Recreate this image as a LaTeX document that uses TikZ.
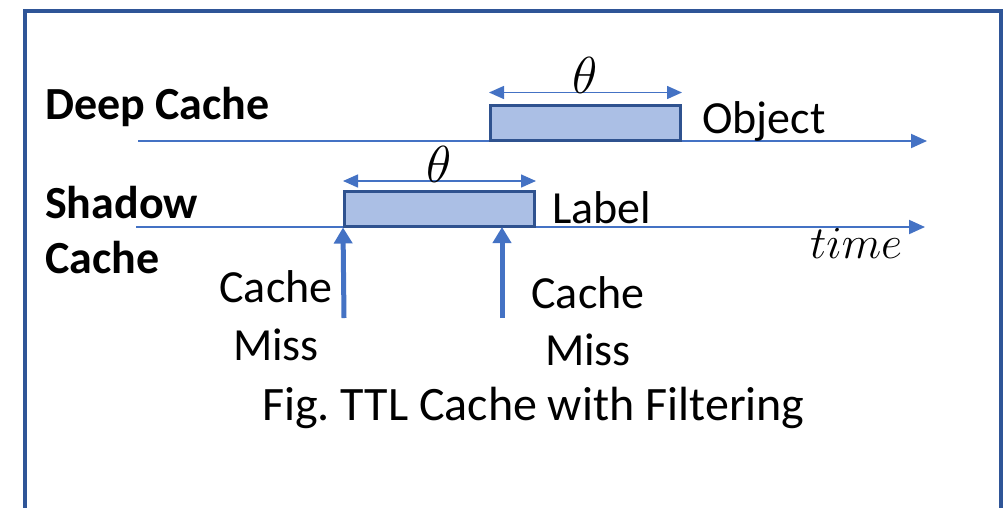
\RequirePackage{fix-cm}
\documentclass[tikz,border=0pt]{standalone}
\usepackage{fontspec}
\setmainfont{Carlito}
\usepackage{tikz}
\usetikzlibrary{arrows.meta, positioning}

\definecolor{axisblue}{HTML}{4472C4}
\definecolor{frameblue}{HTML}{2F5597}
\definecolor{boxfill}{HTML}{ABBFE5}
\definecolor{boxline}{HTML}{2F528F}
\newcommand{\bigtext}{\fontsize{46}{57}\selectfont}

\begin{document}
\begin{tikzpicture}[x=1pt, y=-1pt,
    timeline/.style={draw=axisblue, line width=2pt, -{Triangle[length=16pt, width=14pt]}},
    ttlbox/.style={draw=boxline, fill=boxfill, line width=3pt, minimum width=190pt, inner sep=0pt},
    thetaarrow/.style={draw=axisblue, line width=1.5pt, {Triangle[length=15pt, width=13pt]}-{Triangle[length=15pt, width=13pt]}},
    thetalbl/.style={above, inner sep=0pt, yshift=-2pt, font=\fontsize{52}{52}\selectfont},
    missarrow/.style={draw=axisblue, line width=5pt, -{Triangle[length=16pt, width=18pt]}},
    lbl/.style={font=\bigtext, inner sep=0pt, anchor=base west},
    cachename/.style={font=\bigtext\bfseries, inner sep=0pt, anchor=base west}]
    \clip (0,0) rectangle (1003,507);

    % Frame
    \draw[frameblue, line width=4pt] (24.5,11) rectangle (1001,540);

    % Time axes
    \coordinate (deepstart) at (138,141);
    \coordinate (deepend) at (927,141);
    \coordinate (shadowstart) at (136,227);
    \coordinate (shadowend) at (925,227);
    \draw[timeline] (deepstart) -- (deepend);
    \draw[timeline] (shadowstart) -- (shadowend);

    % TTL boxes
    \node[ttlbox, minimum height=35pt] (objbox) at (585.5,122.5) {};
    \node[ttlbox, minimum height=34.5pt] (lblbox) at (439.5,208.75) {};

    % Theta spans
    \draw[thetaarrow] ([yshift=11pt]objbox.north west) -- node[thetalbl] (theta1) {$\theta$} ([yshift=11pt]objbox.north east);
    \draw[thetaarrow] ([yshift=9pt]lblbox.north west) -- node[thetalbl] (theta2) {$\theta$} ([yshift=9pt]lblbox.north east);

    % Cache misses
    \coordinate (misstail1) at (344,318);
    \coordinate (misstail2) at (502,318);
    \coordinate (misstip2) at (502,227);
    \draw[missarrow] (misstail1) -- (lblbox.south west);
    \draw[missarrow] (misstail2) -- (misstip2);

    % Labels (multi-line nodes sit on their last baseline)
    \node[cachename] (deepname) at (45,119) {Deep Cache};
    \node[cachename, align=left, font=\fontsize{46}{55}\selectfont\bfseries] (shadowname) at (45,273) {Shadow\\Cache};
    \node[lbl] (objtext) at (702,133) {Object};
    \node[lbl] (lbltext) at (552,223) {Label};
    \node[lbl, font=\fontsize{46}{46}\selectfont] (timetext) at (810,258) {$time$};
    \node[lbl, anchor=base, align=center, font=\fontsize{46}{58}\selectfont] (misstext1) at (276,360) {Cache\\Miss};
    \node[lbl, anchor=base, align=center] (misstext2) at (588,365) {Cache\\Miss};
    \node[lbl, font=\fontsize{48}{57}\selectfont] (caption) at (262,420) {Fig.\ TTL Cache with Filtering};
\end{tikzpicture}
\end{document}
